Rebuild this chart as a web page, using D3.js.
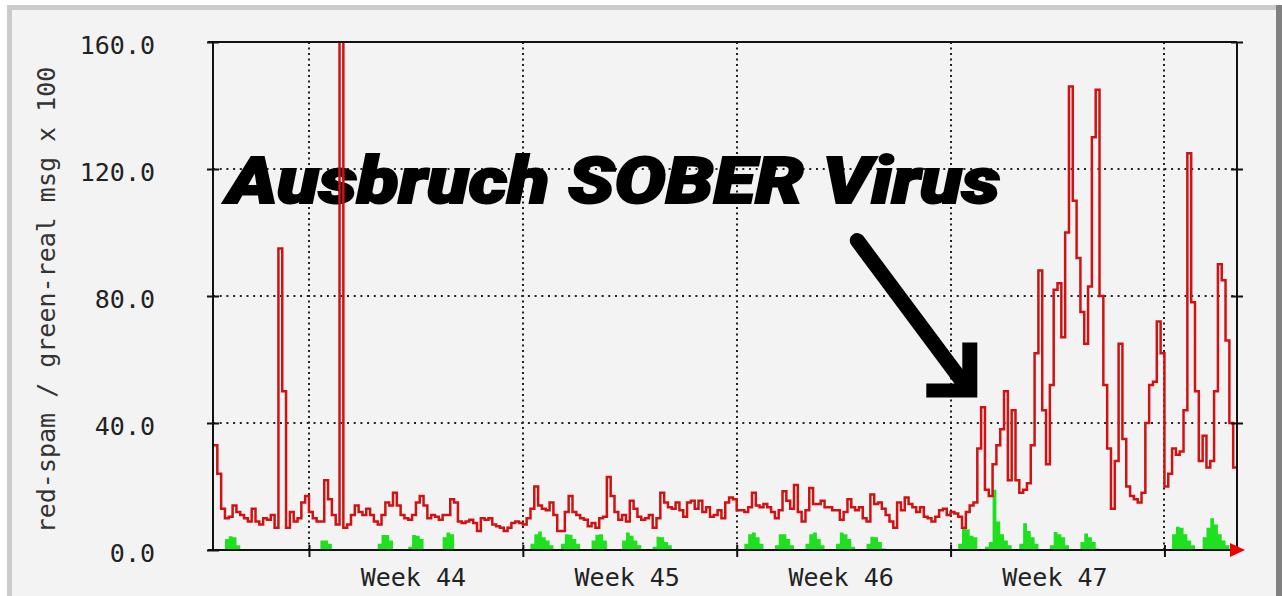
<!DOCTYPE html>
<html><head><meta charset="utf-8">
<script src="https://cdn.jsdelivr.net/npm/d3@7"></script>
<style>html,body{margin:0;padding:0;background:#fff;} svg{display:block;}</style>
</head><body>
<svg id="chart" width="1282" height="596"></svg>
<script>
// ---- data: 3-hour buckets starting Thu 2005-10-27 21:00 UTC ----
const START = Date.UTC(2005, 9, 27, 21);
const STEP_HOURS = 3;

// red: spam ratio (msg x 100)
const spamRatio = [
  33,
  24, 13, 10, 10.5, 14, 12, 11, 10,
  9, 13, 9, 8, 10, 9.5, 11, 7,
  95, 50, 7, 12, 9, 10, 15, 17,
  12, 10, 9, 9, 22, 16, 11, 8,
  260, 7, 8, 11, 14, 12, 11, 13,
  11, 9, 8, 11, 15, 14, 18, 14,
  11, 10, 9.5, 11, 15, 17, 14, 10,
  11, 10.5, 9.5, 11, 11, 16, 15, 9,
  8.5, 9, 9.5, 8.5, 6, 10, 9.5, 10,
  8, 7.5, 7, 6, 7, 8.5, 9, 8.5,
  8, 10, 13, 20, 14, 13, 12.5, 15,
  11, 6, 6, 12, 17, 12, 11, 10,
  9.5, 7.5, 8.5, 7, 10, 10.5, 23, 17,
  12, 9.5, 11, 9, 15.5, 13, 10.5, 9.5,
  10, 11, 7, 10, 18, 15, 13.5, 13,
  15, 12.5, 10.5, 15, 15.5, 13, 15.5, 12,
  13.5, 10.5, 11, 12.5, 10, 15, 16.5, 16,
  12.5, 12.5, 12, 13.5, 18, 14, 13.5, 14.5,
  13.5, 12, 10, 12.5, 18.5, 15.5, 13, 20.5,
  12, 9, 12.5, 19.5, 14.5, 14.5, 15.5, 13.5,
  13.5, 12.5, 12.5, 9.5, 12, 16, 13.5, 12.5,
  13.5, 10, 9, 17.5, 14.5, 15, 13, 11,
  9, 7, 15, 12.5, 16.5, 14.5, 13.5, 12,
  13.5, 10.5, 10, 9, 10.5, 12.5, 13, 11,
  12, 11.5, 10.5, 7, 12, 14, 15, 32,
  45, 19, 17, 27, 33, 38, 50, 22,
  44, 22, 18, 19, 21, 33, 62, 88,
  44, 27, 52, 82, 84, 67, 100, 146,
  110, 92, 75, 65, 83, 130, 145, 80,
  52, 32, 13, 28, 65, 35, 20, 17,
  16, 15, 18, 40, 52, 53, 72, 62,
  20, 24, 32, 30, 31, 44, 125, 78,
  50, 28, 36, 26, 28, 50, 90, 85,
  66, 40, 26
];

// green: real messages (msg x 100)
const realMsg = [
  0,
  0, 0, 3.5, 4.3, 4, 1.5, 0, 0,
  0, 0, 0, 0, 0, 0, 0, 0,
  0, 0, 0, 0, 0, 0, 0, 0,
  0, 0, 0, 3, 3, 2, 0, 0,
  0, 0, 0, 0, 0, 0, 0, 0,
  0, 0, 2, 4.7, 4.7, 3, 0, 0,
  0, 0, 1, 4.7, 4.5, 3.5, 0, 0,
  0, 0, 0, 4, 5.5, 5, 0, 0,
  0, 0, 0, 0, 0, 0, 0, 0,
  0, 0, 0, 0, 0, 0, 0, 0,
  0, 0, 2, 5, 5.8, 4, 3, 1.5,
  0, 0, 2, 5, 4.8, 3.5, 2, 0,
  0, 0, 3, 4.8, 5, 3, 0, 0,
  0, 0, 3, 5.5, 4.5, 3, 1.5, 0,
  0, 0, 1, 4.2, 4, 2.5, 1.5, 0,
  0, 0, 0, 0, 0, 0, 0, 0,
  0, 0, 0, 0, 0, 0, 0, 0,
  0, 0, 2, 5, 5.5, 4, 2, 0,
  0, 0, 1.5, 5, 5, 3.5, 1.5, 0,
  0, 0, 2, 5, 5.5, 3.5, 1.5, 0,
  0, 0, 2, 5.5, 5, 3.5, 1, 0,
  0, 0, 2, 4.2, 4, 2.5, 0.5, 0,
  0, 0, 0, 0, 0, 0, 0, 0,
  0, 0, 0, 0, 0, 0, 0, 0,
  0, 0, 2, 6.9, 6.5, 4.5, 4, 0,
  0, 1, 2.5, 19, 9, 5, 3, 1.5,
  0, 0, 2, 8.4, 6, 4, 2, 0,
  0, 0, 1.5, 5.7, 5, 4, 1.5, 0,
  0, 0, 2.5, 5.2, 4, 2.5, 0.5, 0,
  0, 0, 0, 0, 0, 0, 0, 0,
  0, 0, 0, 0, 0, 0, 0, 0,
  0, 0, 5, 7.3, 7, 5, 3, 1.5,
  0, 0, 4, 7, 10, 8, 5, 3,
  1.5, 0, 0
];

const yTicks = [0, 40, 80, 120, 160];
const weekStarts = [Date.UTC(2005, 9, 31), Date.UTC(2005, 10, 7), Date.UTC(2005, 10, 14), Date.UTC(2005, 10, 21), Date.UTC(2005, 10, 28)];
const weekLabels = ["Week 44", "Week 45", "Week 46", "Week 47"];
const yTitle = "red-spam / green-real msg x 100";
const annotation = "Ausbruch SOBER Virus";

// ---- layout ----
const W = 1282, H = 596;
const L = 213, R = 1237, T = 42, B = 550;
const HOUR = 3600e3;
const n = spamRatio.length;
const tEnd = START + n * STEP_HOURS * HOUR;

const svg = d3.select("#chart");
const x = d3.scaleUtc().domain([new Date(START), new Date(tEnd)]).range([L + 0.5, R]);
const y = d3.scaleLinear().domain([0, 160]).range([B, T]);

const toPts = arr => {
  const p = arr.map((v, i) => ({ t: new Date(START + i * STEP_HOURS * HOUR), v }));
  p.push({ t: new Date(tEnd), v: arr[arr.length - 1] });
  return p;
};
const spamPts = toPts(spamRatio);
const realPts = toPts(realMsg);

// ---- frame ----
svg.append("rect").attr("x", 0).attr("y", 0).attr("width", W).attr("height", H).attr("fill", "#fff");
svg.append("rect").attr("x", 7).attr("y", 5).attr("width", W - 7).attr("height", H - 5).attr("fill", "#f3f3f3");
svg.append("rect").attr("x", 7).attr("y", 5).attr("width", 1270).attr("height", 5).attr("fill", "#cbcbcb");
svg.append("rect").attr("x", 7).attr("y", 5).attr("width", 5).attr("height", H - 5).attr("fill", "#cbcbcb");
svg.append("rect").attr("x", 1276).attr("y", 5).attr("width", 6).attr("height", H - 5).attr("fill", "#808080");

svg.append("defs").append("clipPath").attr("id", "plotclip")
  .append("rect").attr("x", L).attr("y", T).attr("width", R - L).attr("height", B - T);

// ---- grid ----
const grid = svg.append("g");
grid.selectAll("line.h").data(yTicks.filter(v => v > 0 && v < 160)).join("line")
  .attr("x1", L).attr("x2", R).attr("y1", d => y(d)).attr("y2", d => y(d))
  .attr("stroke", "#222").attr("stroke-width", 2).attr("stroke-dasharray", "2,4.7");
grid.selectAll("line.v").data(weekStarts).join("line")
  .attr("x1", d => Math.round(x(new Date(d)))).attr("x2", d => Math.round(x(new Date(d))))
  .attr("y1", T).attr("y2", B)
  .attr("stroke", "#222").attr("stroke-width", 2).attr("stroke-dasharray", "2,3.5");

// ---- annotation (text + arrow) ----
svg.append("text").attr("x", 227).attr("y", 203)
  .attr("font-family", "Roboto, 'Liberation Sans', Arial, sans-serif")
  .attr("font-size", 64).attr("font-weight", 900).attr("font-style", "italic")
  .attr("textLength", 773).attr("lengthAdjust", "spacingAndGlyphs")
  .attr("fill", "#000").attr("stroke", "#000").attr("stroke-width", 2)
  .text(annotation);

const tipX = x(new Date(Date.UTC(2005, 10, 21, 21)));
const tipY = y(48);
svg.append("line")
  .attr("x1", tipX - 120).attr("y1", tipY - 157).attr("x2", tipX - 12).attr("y2", tipY - 12)
  .attr("stroke", "#000").attr("stroke-width", 15).attr("stroke-linecap", "round");
svg.append("path")
  .attr("d", `M${tipX - 51},${tipY - 14} H${tipX - 15} V${tipY - 55} H${tipX} V${tipY} H${tipX - 51} Z`)
  .attr("fill", "#000");

// ---- data ----
const plot = svg.append("g").attr("clip-path", "url(#plotclip)");
plot.append("path").datum(realPts)
  .attr("d", d3.area().curve(d3.curveStepAfter).x(d => x(d.t)).y0(y(0)).y1(d => y(d.v)))
  .attr("fill", "#1ee01e");
plot.append("path").datum(spamPts)
  .attr("d", d3.line().curve(d3.curveStepAfter).x(d => x(d.t)).y(d => y(d.v)))
  .attr("fill", "none").attr("stroke", "#d01212").attr("stroke-width", 2.5);

// ---- axes ----
const ax = svg.append("g").attr("stroke", "#111").attr("stroke-width", 2);
ax.append("line").attr("x1", L).attr("x2", L).attr("y1", T).attr("y2", B);
ax.append("line").attr("x1", R).attr("x2", R).attr("y1", T).attr("y2", B);
ax.append("line").attr("x1", L - 5).attr("x2", R).attr("y1", T).attr("y2", T);
ax.append("line").attr("x1", L - 5).attr("x2", R).attr("y1", B).attr("y2", B);

const fontMono = "'DejaVu Sans Mono', 'Liberation Mono', monospace";

const yAxis = svg.append("g").attr("transform", `translate(${L},0)`)
  .call(d3.axisLeft(y).tickValues(yTicks).tickFormat(d3.format(".1f")).tickSize(6).tickPadding(52));
yAxis.select(".domain").remove();
yAxis.selectAll(".tick line").attr("x1", 6).attr("stroke", "#111").attr("stroke-width", 2);
yAxis.selectAll(".tick text").attr("font-family", fontMono).attr("font-size", 25)
  .attr("fill", "#222").attr("dy", "0.46em");

const yAxisR = svg.append("g").attr("transform", `translate(${R},0)`)
  .call(d3.axisRight(y).tickValues(yTicks.filter(v => v > 0)).tickFormat("").tickSize(6));
yAxisR.select(".domain").remove();
yAxisR.selectAll(".tick line").attr("x1", -6).attr("stroke", "#111").attr("stroke-width", 2);

const xAxis = svg.append("g").attr("transform", `translate(0,${B})`)
  .call(d3.axisBottom(x).tickValues(weekStarts.map(d => new Date(d))).tickFormat("").tickSize(7));
xAxis.select(".domain").remove();
xAxis.selectAll(".tick line").attr("y1", -5).attr("stroke", "#111").attr("stroke-width", 2);

svg.append("g").selectAll("text").data(weekLabels).join("text")
  .attr("x", (d, i) => x(new Date(weekStarts[i] + 82 * HOUR)))
  .attr("y", 586).attr("text-anchor", "middle")
  .attr("font-family", fontMono).attr("font-size", 25).attr("fill", "#222")
  .text(d => d);

svg.append("text")
  .attr("transform", `translate(55,${(T + B) / 2 + 4}) rotate(-90)`)
  .attr("text-anchor", "middle")
  .attr("font-family", fontMono).attr("font-size", 25).attr("fill", "#333")
  .text(yTitle);

// red arrow at end of x-axis
svg.append("path")
  .attr("d", `M${R - 7},${B - 7} L${R + 8},${B} L${R - 7},${B + 7} Z`)
  .attr("fill", "#ee0000");
</script>
</body></html>
